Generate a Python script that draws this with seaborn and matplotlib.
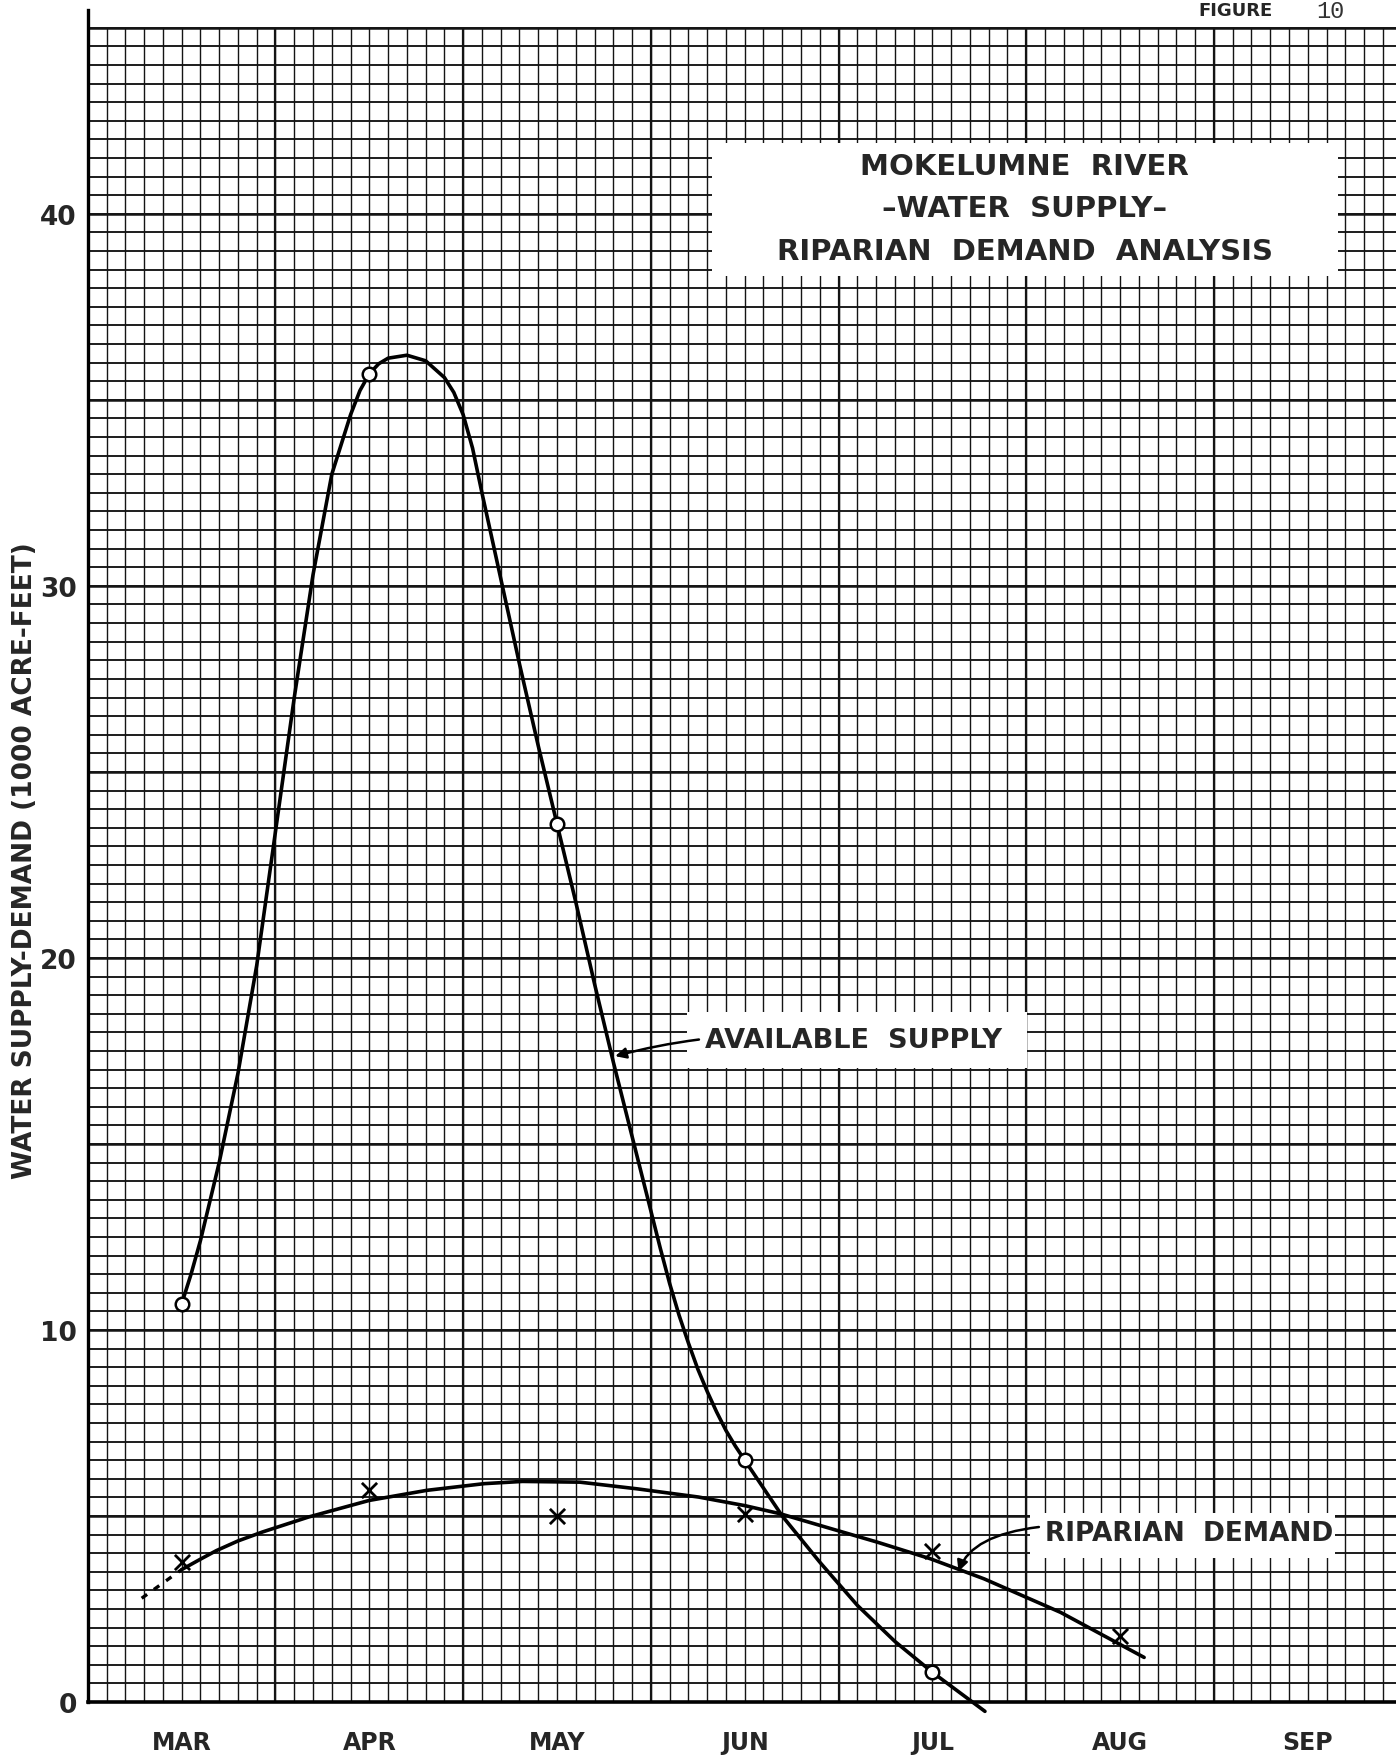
import numpy as np
import pandas as pd
import seaborn as sns
import matplotlib.pyplot as plt
from matplotlib.patches import Rectangle

# months on the x axis (0 = MAR)
months = ['MAR', 'APR', 'MAY', 'JUN', 'JUL', 'AUG', 'SEP']

# plotted points, 1000 acre-feet
supply_x = [0, 1, 2, 3, 4]
supply_y = [10.7, 35.7, 23.6, 6.5, 0.8]
demand_x = [0, 1, 2, 3, 4, 5]
demand_y = [3.76, 5.69, 5.01, 5.06, 4.07, 1.77]

# hand drawn curves
supply_curve_x = [0.0, 0.05, 0.1, 0.2, 0.3, 0.4, 0.5, 0.6, 0.7, 0.8, 0.9, 0.95, 1.0, 1.05, 1.1,
                  1.2, 1.3, 1.4, 1.45, 1.5, 1.55, 1.6, 1.7, 1.8, 1.9, 2.0, 2.1, 2.2, 2.3,
                  2.4, 2.5, 2.55, 2.6, 2.65, 2.7, 2.75, 2.8, 2.85, 2.9, 2.95, 3.0, 3.1, 3.2,
                  3.4, 3.6, 3.8, 4.0, 4.2, 4.28]
supply_curve_y = [10.7, 11.5, 12.4, 14.5, 16.9, 19.8, 23.4, 27.0, 30.3, 33.0, 34.6, 35.25, 35.7,
                  35.97, 36.12, 36.2, 36.05, 35.6, 35.2, 34.6, 33.7, 32.5, 30.2, 27.9, 25.7,
                  23.6, 21.5, 19.3, 17.2, 15.2, 13.2, 12.2, 11.25, 10.4, 9.65, 8.95, 8.35,
                  7.8, 7.3, 6.88, 6.5, 5.75, 5.0, 3.76, 2.6, 1.63, 0.8, 0.05, -0.25]
demand_curve_x = [0.0, 0.1, 0.185, 0.3, 0.43, 0.674, 1.0, 1.306, 1.612, 1.816, 2.122, 2.428,
                  2.754, 2.85, 3.0, 3.19, 3.46, 3.705, 3.99, 4.276, 4.683, 5.128]
demand_curve_y = [3.56, 3.84, 4.07, 4.33, 4.57, 4.97, 5.42, 5.69, 5.87, 5.93, 5.91, 5.73,
                  5.51, 5.42, 5.28, 5.06, 4.66, 4.30, 3.85, 3.31, 2.41, 1.20]
demand_dash_x = [-0.213, 0.0]
demand_dash_y = [2.79, 3.56]

supply_curve = pd.DataFrame({'month': supply_curve_x, 'af': supply_curve_y})
demand_curve = pd.DataFrame({'month': demand_curve_x, 'af': demand_curve_y})

sns.set_style('white')
plt.rcParams['font.family'] = ['DejaVu Sans']

fig = plt.figure(figsize=(13.96, 17.65), dpi=100)
ax = fig.add_axes([0.0629, 0.0351, 0.9371, 0.9587])
ax.set_xlim(-0.5, 6.47)
ax.set_ylim(0, 45.48)

# graph paper
ink = '#141414'
ax.vlines(np.arange(-0.5, 6.55, 0.1), 0, 45, color=ink, lw=1.0, zorder=1)
ax.hlines(np.arange(0, 45.1, 0.5), -0.5, 6.47, color=ink, lw=1.35, zorder=1)
ax.vlines(np.arange(0.5, 6.55, 1.0), 0, 45, color=ink, lw=1.6, zorder=1)
ax.hlines(np.arange(5, 45.1, 5), -0.5, 6.47, color=ink, lw=1.8, zorder=1)

# white label patches
for x0, y0, w, h in [(0.5097, 0.8431, 0.4484, 0.0753),
                     (0.4919, 0.3941, 0.2436, 0.0320),
                     (0.7380, 0.1167, 0.2180, 0.0255)]:
    ax.add_artist(Rectangle((x0, y0), w, h, transform=fig.transFigure, facecolor='white',
                            edgecolor='none', zorder=2, clip_on=False))

# curves and points
sns.lineplot(data=supply_curve, x='month', y='af', sort=False, estimator=None,
             color='black', lw=2.6, ax=ax, zorder=3)
sns.lineplot(data=demand_curve, x='month', y='af', sort=False, estimator=None,
             color='black', lw=2.6, ax=ax, zorder=3)
ax.lines[0].set_clip_on(False)
ax.plot(demand_dash_x, demand_dash_y, color='black', lw=2.4, ls=(0, (2, 2.5)), zorder=3)
sns.scatterplot(x=supply_x, y=supply_y, marker='o', s=95, facecolor='white',
                edgecolor='black', linewidth=1.8, ax=ax, zorder=4)
sns.scatterplot(x=demand_x, y=demand_y, marker='x', s=120, color='black',
                linewidth=2.0, ax=ax, zorder=4)

# labels with arrows
ax.annotate('AVAILABLE  SUPPLY', xy=(2.31, 17.36), xytext=(0.505, 0.4102),
            textcoords='figure fraction', ha='left', va='center', fontsize=19.5,
            fontweight='bold', zorder=5,
            arrowprops=dict(arrowstyle='-|>', connectionstyle='arc3,rad=0.1', color='black',
                            lw=1.8, mutation_scale=16, shrinkA=2, shrinkB=0))
ax.annotate('RIPARIAN  DEMAND', xy=(4.139, 3.51), xytext=(0.7485, 0.1306),
            textcoords='figure fraction', ha='left', va='center', fontsize=19,
            fontweight='bold', zorder=5,
            arrowprops=dict(arrowstyle='-|>', connectionstyle='angle3,angleA=-8,angleB=70',
                            color='black', lw=1.8, mutation_scale=16, shrinkA=2, shrinkB=0))

# title block
for yy, line in [(0.9056, 'MOKELUMNE  RIVER'), (0.8814, '–WATER  SUPPLY–'),
                 (0.8571, 'RIPARIAN  DEMAND  ANALYSIS')]:
    fig.text(0.7339, yy, line, ha='center', va='center', fontsize=21, fontweight='bold', zorder=6)

fig.text(0.885, 0.9935, 'FIGURE', ha='center', va='center', fontsize=13, fontweight='bold')
fig.text(0.9527, 0.9935, '10', ha='center', va='center', fontsize=17,
         family=['Liberation Mono', 'DejaVu Sans Mono'], color='#333333')

# axes
ax.set_xticks(range(len(months)))
ax.set_xticklabels(months, fontsize=17, fontweight='bold')
ax.set_yticks([0, 10, 20, 30, 40])
ax.set_yticklabels(['0', '10', '20', '30', '40'], fontsize=19, fontweight='bold')
ax.tick_params(axis='x', length=0, pad=20)
ax.tick_params(axis='y', length=0, pad=8)
ax.set_xlabel('')
ax.set_ylabel('')
fig.text(0.0179, 0.5122, 'WATER SUPPLY-DEMAND (1000 ACRE-FEET)', rotation=90,
         ha='center', va='center', fontsize=19, fontweight='bold')

for side in ['top', 'right']:
    ax.spines[side].set_visible(False)
ax.spines['left'].set_linewidth(2.4)
ax.spines['bottom'].set_linewidth(2.6)
ax.spines['left'].set_color('black')
ax.spines['bottom'].set_color('black')
ax.spines['bottom'].set_zorder(5)
ax.set_facecolor('white')

fig.savefig('out.png', dpi=100, facecolor='white')
